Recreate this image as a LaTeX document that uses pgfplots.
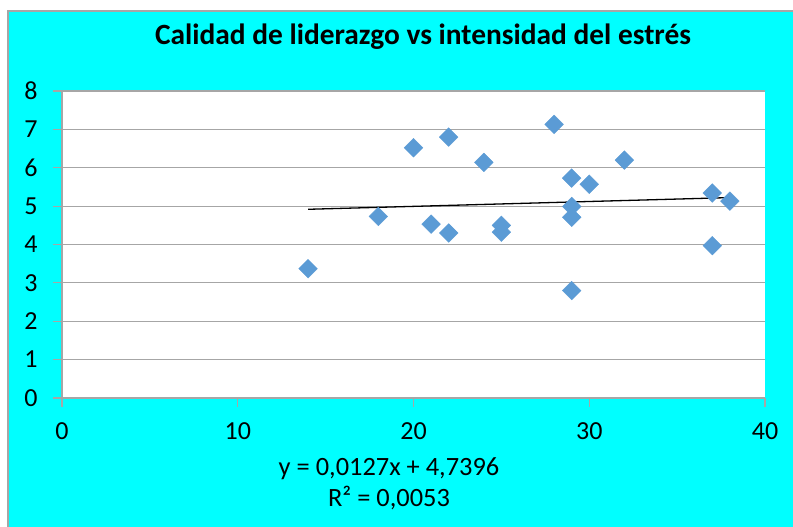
\documentclass[border=0pt]{standalone}
\usepackage{pgfplots}
\pgfplotsset{compat=1.18}
\usepackage{fontspec}
\setmainfont{Carlito}
\definecolor{chartbg}{HTML}{00FFFF}
\definecolor{gridgray}{HTML}{A6A6A6}
\definecolor{markblue}{HTML}{5B9BD5}

\pgfplotstableread{
x    y
14   3.37
18   4.73
20   6.52
21   4.53
22   6.80
22   4.30
24   6.14
25   4.50
25   4.32
28   7.13
29   5.73
29   4.99
29   4.71
29   2.80
30   5.57
32   6.20
37   5.34
37   3.97
38   5.13
}\liderazgo

\begin{document}
\begin{tikzpicture}[x=1pt,y=1pt]
\useasboundingbox (0,0) rectangle (793,527);
\fill[white] (0,0) rectangle (793,527);
\filldraw[fill=chartbg, draw=gridgray, line width=1.2pt] (8,-5) rectangle (800,516);
\begin{axis}[
  at={(62pt,129pt)}, anchor=south west,
  scale only axis, width=703pt, height=307pt,
  xmin=0, xmax=40, ymin=0, ymax=8,
  xtick={0,10,...,40}, ytick={0,1,...,8},
  axis background/.style={fill=white},
  axis x line=bottom, axis y line=left,
  axis line style={gridgray, line width=1.2pt, -},
  ymajorgrids, grid style={gridgray, line width=1.2pt},
  tick align=outside, major tick length=9pt,
  tick style={gridgray, line width=1.2pt},
  ticklabel style={font=\fontsize{26}{30}\selectfont},
  xticklabel style={yshift=-12pt},
  yticklabel style={xshift=-12pt},
  /pgf/number format/assume math mode=true,
  clip=false,
]
  \addplot[only marks, mark=square*, mark size=6.6pt,
    mark options={rotate=45, fill=markblue, draw=markblue}] table {\liderazgo};
  % linea de tendencia lineal
  \addplot[black, line width=1.3pt] coordinates {(14,4.9174) (38,5.2222)};
\end{axis}
\node[anchor=base, font=\bfseries\fontsize{29.4}{34}\selectfont] at (423,482.5) {Calidad de liderazgo vs intensidad del estrés};
\node[anchor=base, font=\fontsize{26.4}{30}\selectfont] at (389,51) {y = 0,0127x + 4,7396};
\node[anchor=base, font=\fontsize{26.4}{30}\selectfont] at (389,20) {R² = 0,0053};
\end{tikzpicture}
\end{document}
